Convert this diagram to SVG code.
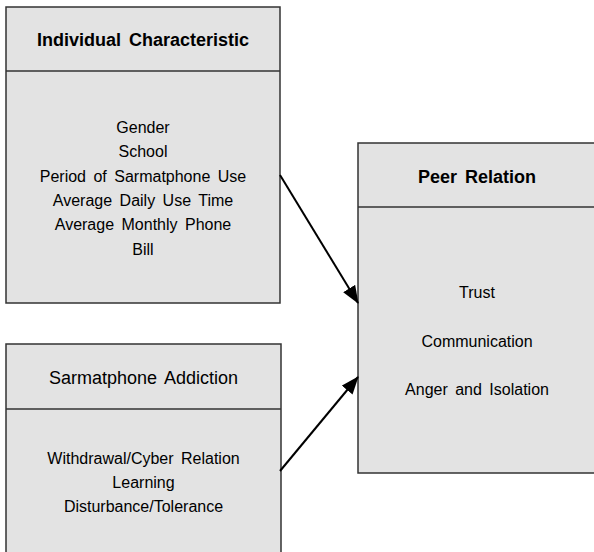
<svg xmlns="http://www.w3.org/2000/svg" width="594" height="552" viewBox="0 0 594 552">
  <style>
    .box { fill: #e3e3e3; stroke: #333333; stroke-width: 1.5; }
    .sep { stroke: #333333; stroke-width: 1.5; }
    .title { font-family: "Liberation Sans", Arial, sans-serif; font-size: 18px; fill: #000000; text-anchor: middle; word-spacing: 3px; }
    .bold { font-weight: bold; }
    .item { font-family: "Liberation Sans", Arial, sans-serif; font-size: 16px; fill: #000000; text-anchor: middle; word-spacing: 3px; }
    .link { stroke: #000000; stroke-width: 2; fill: none; marker-end: url(#arrow); }
  </style>
  <defs>
    <marker id="arrow" viewBox="0 0 18 14" refX="17" refY="7" markerWidth="18" markerHeight="14" markerUnits="userSpaceOnUse" orient="auto">
      <path d="M0,0 L18,7 L0,14 z" fill="#000000"/>
    </marker>
  </defs>
  <rect width="594" height="552" fill="#ffffff"/>

  <g id="individual-characteristic">
    <rect class="box" x="6" y="7" width="274" height="296"/>
    <line class="sep" x1="6" y1="71" x2="280" y2="71"/>
    <text class="title bold" x="143" y="46">Individual Characteristic</text>
    <text class="item" x="143" y="133">Gender</text>
    <text class="item" x="143" y="157">School</text>
    <text class="item" x="143" y="182">Period of Sarmatphone Use</text>
    <text class="item" x="143" y="206">Average Daily Use Time</text>
    <text class="item" x="143" y="230">Average Monthly Phone</text>
    <text class="item" x="143" y="255">Bill</text>
  </g>

  <g id="smartphone-addiction">
    <rect class="box" x="6" y="344" width="275" height="215"/>
    <line class="sep" x1="6" y1="409" x2="281" y2="409"/>
    <text class="title" x="143.5" y="384">Sarmatphone Addiction</text>
    <text class="item" x="143.5" y="464">Withdrawal/Cyber Relation</text>
    <text class="item" x="143.5" y="488">Learning</text>
    <text class="item" x="143.5" y="512">Disturbance/Tolerance</text>
  </g>

  <g id="peer-relation">
    <rect class="box" x="358" y="143" width="245" height="330"/>
    <line class="sep" x1="358" y1="207" x2="600" y2="207"/>
    <text class="title bold" x="477" y="183">Peer Relation</text>
    <text class="item" x="477" y="298">Trust</text>
    <text class="item" x="477" y="347">Communication</text>
    <text class="item" x="477" y="395">Anger and Isolation</text>
  </g>

  <g id="connectors">
    <line class="link" x1="280" y1="175" x2="358" y2="303"/>
    <line class="link" x1="280" y1="471" x2="358" y2="377"/>
  </g>
</svg>
